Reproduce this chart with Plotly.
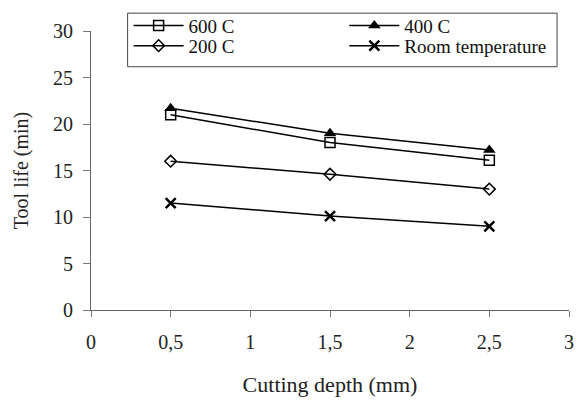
import plotly.graph_objects as go

depth = [0.5, 1.5, 2.5]
t600 = [21.0, 18.0, 16.1]
t400 = [21.7, 19.0, 17.2]
t200 = [16.0, 14.6, 13.0]
troom = [11.5, 10.1, 9.0]

x_ticks = [0, 0.5, 1, 1.5, 2, 2.5, 3]
x_labels = ["0", "0,5", "1", "1,5", "2", "2,5", "3"]
y_ticks = [0, 5, 10, 15, 20, 25, 30]

series = [
    ("600 C", t600, "legend", dict(symbol="square-open", size=10, color="black", line=dict(width=1.5, color="black"))),
    ("400 C", t400, "legend2", dict(symbol="triangle-up", size=11, color="black")),
    ("200 C", t200, "legend3", dict(symbol="diamond-open", size=9, color="black", line=dict(width=1.5, color="black"))),
    ("Room temperature", troom, "legend4", dict(symbol="x-thin-open", size=10, color="black", line=dict(width=2.5, color="black"))),
]

fig = go.Figure()
for name, vals, lg, mk in series:
    fig.add_trace(go.Scatter(
        x=depth, y=vals, name=name, mode="lines+markers", legend=lg,
        line=dict(color="black", width=1.5), marker=mk,
    ))

font = "Liberation Serif, Times New Roman, serif"
legend_common = dict(
    orientation="v", yanchor="middle", xanchor="left",
    bgcolor="rgba(0,0,0,0)", borderwidth=0,
    font=dict(family=font, size=19, color="#111"),
    tracegroupgap=0, itemwidth=50,
)
col1, col2 = 0.0787, 0.530
row1, row2 = 1.0188, 0.9470
fig.update_layout(
    width=581, height=403,
    margin=dict(l=91, r=7, t=28, b=93),
    plot_bgcolor="white", paper_bgcolor="white",
    font=dict(family=font, size=19, color="#222"),
    showlegend=True,
    legend=dict(x=col1, y=row1, **legend_common),
    legend2=dict(x=col2, y=row1, **legend_common),
    legend3=dict(x=col1, y=row2, **legend_common),
    legend4=dict(x=col2, y=row2, **legend_common),
    shapes=[dict(type="rect", xref="paper", yref="paper",
                 x0=0.0766, x1=0.975, y0=0.872, y1=1.064,
                 line=dict(color="#444", width=1), layer="below")],
    xaxis=dict(
        range=[0, 3], tickvals=x_ticks, ticktext=x_labels,
        showgrid=False, zeroline=False, showline=True, linecolor="#666", linewidth=1,
        ticks="outside", ticklen=6, tickcolor="#777", ticklabeloverflow="allow",
        ticklabelstandoff=8,
        title=dict(text="Cutting depth (mm)", font=dict(family=font, size=22), standoff=24),
        tickfont=dict(family=font, size=20),
    ),
    yaxis=dict(
        range=[0, 30], tickvals=y_ticks,
        showgrid=False, zeroline=False, showline=True, linecolor="#666", linewidth=1,
        ticks="outside", ticklen=7, tickcolor="#777", ticklabelstandoff=6,
        title=dict(text="Tool life (min)", font=dict(family=font, size=20), standoff=19),
        tickfont=dict(family=font, size=20),
    ),
)

fig.write_html("out.html", config={"displayModeBar": False},
               post_script="document.body.style.margin='0';")
